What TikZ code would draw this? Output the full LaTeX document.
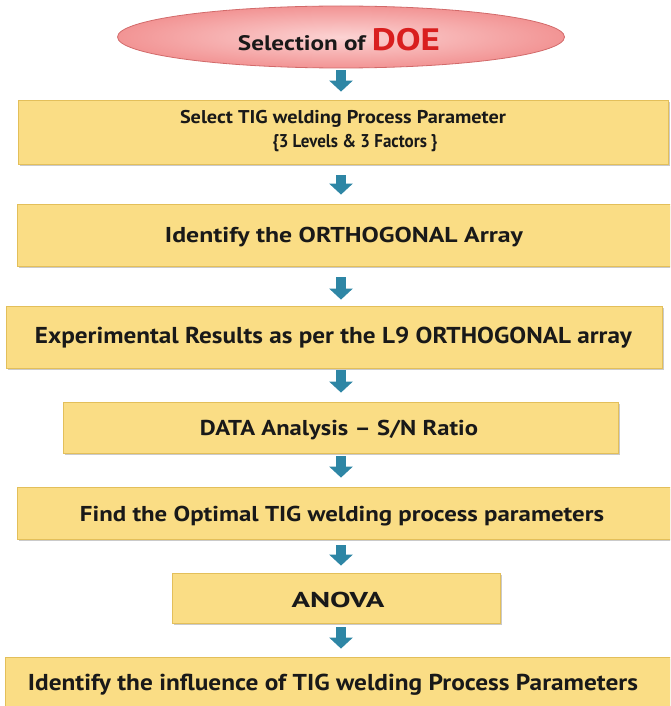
\documentclass[tikz,border=0pt]{standalone}
\usepackage{fontspec}
\setmainfont{PT Sans}
\usetikzlibrary{arrows.meta,shadows,shapes.geometric}
\definecolor{boxfill}{HTML}{FADD85}
\definecolor{boxedge}{HTML}{E3BF5A}
\definecolor{arrowcol}{HTML}{2E86A5}
\definecolor{pinkin}{HTML}{FCD3D3}
\definecolor{pinkout}{HTML}{F29494}
\definecolor{pinkedge}{HTML}{D26A6A}
\definecolor{doered}{HTML}{D91E1E}
% #1 target width, #2 font size, #3 text
\newcommand\fitto[3]{\resizebox{#1pt}{\height}{\bfseries\fontsize{#2}{#2}\selectfont #3}}
\begin{document}
\begin{tikzpicture}[x=1pt,y=-1pt,
  stepbox/.style={draw=boxedge, line width=0.8pt, fill=boxfill,
    drop shadow={shadow xshift=1.5pt, shadow yshift=-2pt, opacity=0.35, fill=black!60},
    inner sep=0pt},
  txt/.style={inner sep=0pt, text=black!90},
  flowarrow/.style={draw=arrowcol, line width=10pt, -{Triangle[width=23pt,length=11pt]}}]
\useasboundingbox (0,0) rectangle (670,706);
\clip (0,0) rectangle (670,706);
\coordinate (ax) at (341,0);
% ellipse
\node[ellipse, draw=pinkedge, line width=0.8pt, shading=radial, inner color=pinkin, outer color=pinkout,
  minimum width=447pt, minimum height=62pt, inner sep=0pt] (e) at (341,37) {};
\node[txt] (et) at (339,40) {\fitto{202}{21}{Selection of \textcolor{doered}{\fontsize{31}{31}\selectfont DOE}}};
% boxes
\node[stepbox, minimum width=650pt, minimum height=64pt] (b1) at (343,132) {};
\node[txt] (t1a) at (343,119) {\fitto{326}{18.5}{Select TIG welding Process Parameter}};
\node[txt] (t1b) at (355,143) {\fitto{165}{18.5}{\{3 Levels \& 3 Factors \}}};
\node[stepbox, minimum width=655pt, minimum height=62pt] (b2) at (344.5,235) {};
\node[txt] (t2) at (344,237) {\fitto{358}{21.5}{Identify the ORTHOGONAL Array}};
\node[stepbox, minimum width=656pt, minimum height=62pt] (b3) at (334,337) {};
\node[txt] (t3) at (333.5,338) {\fitto{597}{23}{Experimental Results as per the L9 ORTHOGONAL array}};
\node[stepbox, minimum width=555pt, minimum height=51pt] (b4) at (340.5,427.5) {};
\node[txt] (t4) at (339,430) {\fitto{278}{21.5}{DATA Analysis -- S/N Ratio}};
\node[stepbox, minimum width=655pt, minimum height=52pt] (b5) at (344.5,513) {};
\node[txt] (t5) at (342,516) {\fitto{524}{21.5}{Find the Optimal TIG welding process parameters}};
\node[stepbox, minimum width=328pt, minimum height=50pt] (b6) at (336,598) {};
\node[txt] (t6) at (338,600) {\fitto{93}{21.5}{ANOVA}};
\node[stepbox, minimum width=670pt, minimum height=63pt] (b7) at (340,688.5) {};
\node[txt] (t7) at (333,685) {\fitto{610}{23}{Identify the influence of TIG welding Process Parameters}};
% arrows
\draw[flowarrow, shorten <=2pt, shorten >=8pt] (ax |- e.south) -- (ax |- b1.north);
\draw[flowarrow, shorten <=11pt, shorten >=9pt] (ax |- b1.south) -- (ax |- b2.north);
\draw[flowarrow, shorten <=11pt, shorten >=6pt] (ax |- b2.south) -- (ax |- b3.north);
\draw[flowarrow, shorten <=2pt, shorten >=9pt] (ax |- b3.south) -- (ax |- b4.north);
\draw[flowarrow, shorten <=3pt, shorten >=9pt] (ax |- b4.south) -- (ax |- b5.north);
\draw[flowarrow, shorten <=6pt, shorten >=7pt] (ax |- b5.south) -- (ax |- b6.north);
\draw[flowarrow, shorten <=4pt, shorten >=8pt] (ax |- b6.south) -- (ax |- b7.north);
\end{tikzpicture}
\end{document}
